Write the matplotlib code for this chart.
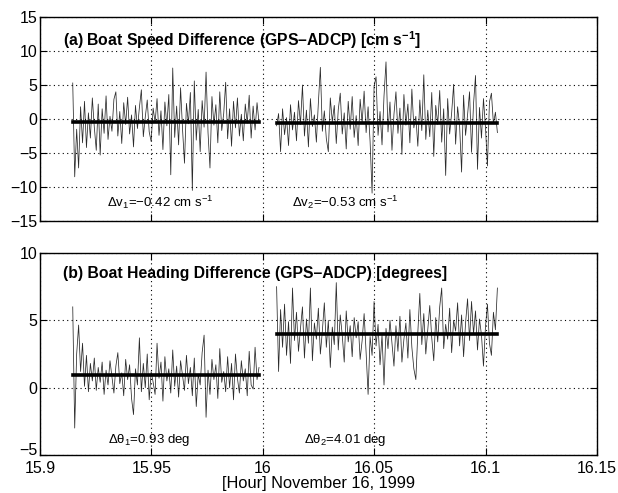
import numpy as np
import matplotlib
matplotlib.use("Agg")
import matplotlib.pyplot as plt
import matplotlib.transforms as mtransforms

plt.rcParams['font.family'] = ['Liberation Sans', 'DejaVu Sans']
plt.rcParams['mathtext.fontset'] = 'custom'
plt.rcParams['mathtext.rm'] = 'Liberation Sans'
plt.rcParams['mathtext.it'] = 'Liberation Sans:italic'
plt.rcParams['mathtext.bf'] = 'Liberation Sans:bold'

# ---- data ----
seg1_start, seg1_end = 15.9147, 15.9983
seg2_start, seg2_end = 16.0062, 16.1053

speed1 = [5.3, -8.5, -1.5, -7.2, 1.8, -3.5, 2.6, -4.2, 0.9, -2.8,
          3.1, -1.2, -4.6, 2.2, -5.3, 1.5, -2.1, 3.4, -3.0, 0.4,
          -1.8, 2.9, 4.0, -2.5, 1.1, -3.6, 2.4, -0.8, 3.2, -2.2,
          0.6, -4.1, 2.0, -1.4, 1.7, 4.3, -2.6, 0.3, 2.8, -1.9,
          -3.3, 1.6, -0.5, 3.0, -2.4, 1.2, -4.5, 2.5, -1.0, 3.6,
          -8.2, 7.5, -2.7, 1.9, -3.8, 4.6, -1.5, -6.5, 2.3, -0.7,
          3.9, -10.5, 5.6, -3.1, 1.4, -4.8, 2.7, -1.2, 6.9, -2.0,
          -7.2, 3.3, -0.9, 2.1, -3.5, 4.0, -1.7, 0.8, 5.4, -2.9,
          1.5, -4.0, 2.6, -1.3, 3.1, -2.5, 0.7, -3.2, 2.2, -0.6,
          3.5, -2.8, 1.9, -1.6, 2.4, -0.5]
speed2 = [-1.0, 0.8, -4.8, 1.5, -2.3, 0.2, -3.9, 2.1, -1.6, 1.0,
          -3.2, 2.7, -0.8, 5.0, -2.5, 1.3, -4.1, 3.0, -1.1, 0.6,
          -3.4, 2.4, 7.6, -1.8, 1.2, -2.9, -4.8, 3.1, -0.4, 2.0,
          -3.6, 1.4, 3.8, -2.2, 0.9, -4.4, 2.6, -1.5, 3.3, -2.7,
          0.5, -3.9, 2.9, -0.6, 4.1, -2.0, 1.8, -3.3, -10.9, 4.8,
          6.2, -2.4, 1.1, -3.8, 3.4, 8.4, -1.9, 2.5, -4.6, 0.7,
          4.0, -2.1, 1.6, -5.2, 3.6, -0.9, 2.2, -3.5, 4.4, -1.3,
          0.4, -4.0, 2.8, -1.7, 6.5, -3.0, 1.3, -2.6, 3.9, -5.5,
          2.0, -0.8, 4.2, -3.4, 1.5, -8.3, 3.0, -2.2, 0.9, 5.1,
          -3.7, 1.8, -1.0, -7.8, 3.5, -2.4, 0.6, 4.0, -4.9, 2.2,
          6.4, -7.4, 1.7, -2.8, 3.0, -1.2, -6.9, 2.5, 3.8, -0.7, 1.0, -2.0]
heading1 = [6.0, -3.0, 2.5, 4.65, 1.2, 3.3, 0.1, 2.4, -0.3, 1.8,
            0.5, 2.2, -0.2, 1.5, 0.4, 1.9, -0.5, 1.3, 0.2, 2.0,
            0.8, -0.4, 1.6, 2.6, 0.3, 1.1, -0.6, 2.1, 0.6, 1.7,
            -0.8, -2.0, 1.4, 0.2, 3.7, -0.3, 1.8, 0.0, 2.5, -0.9,
            1.2, 0.4, -0.5, 3.3, 0.7, 1.9, -1.0, 2.3, 0.5, 1.4,
            -0.4, 2.8, 0.1, 1.6, -0.7, 2.0, 0.9, -0.2, 2.4, 0.3,
            1.5, -0.6, 2.2, -1.4, 1.0, 0.2, 2.6, 3.9, -2.2, 1.3,
            -0.5, 2.1, 0.6, 1.7, -0.8, 2.9, 0.4, 1.2, -0.3, 2.3,
            0.0, 1.8, -0.9, 2.5, 0.7, -0.4, 2.0, 0.5, 1.4, -0.6,
            2.7, 0.2, -0.1, 3.0, 0.6, 1.5]
heading2 = [7.5, 1.2, 5.8, 3.0, 6.2, 2.4, 4.9, 1.8, 7.4, 3.5,
            5.6, 2.7, 4.4, 6.0, 2.2, 5.1, 3.3, 7.4, 2.0, 4.8,
            3.6, 5.9, 2.5, 4.2, 6.3, 3.0, 5.0, 1.5, 4.5, 3.2,
            7.8, 2.8, 5.4, 3.9, 1.9, 5.7, 3.4, 4.6, 2.3, 5.2,
            3.7, 4.9, 2.1, 3.5, 5.5, 2.6, -0.5, 3.8, 2.4, 6.4,
            3.1, 4.7, 1.7, 3.9, 0.2, 4.4, 2.9, 5.0, 3.3, 1.6,
            4.6, 2.7, 5.3, 1.9, 3.6, 4.8, 2.2, 5.8, 3.0, 1.4,
            0.6, 4.1, 7.0, 3.2, 5.5, 2.5, 4.3, 6.1, 3.7, 2.0,
            5.2, 3.4, 6.0, 7.4, 2.9, 4.7, 3.6, 5.9, 2.6, 5.0,
            4.2, 6.3, 3.1, 5.4, 2.3, 4.8, 6.6, 3.5, 6.4, 4.0,
            5.7, 2.8, 5.1, 3.9, 1.6, 4.5, 6.2, 3.3, 2.4, 5.6, 4.3, 7.4]

mean_speed = [-0.42, -0.53]
mean_heading = [0.93, 4.01]

xticks = [15.9, 15.95, 16.0, 16.05, 16.1, 16.15]
xticklabels = ['15.9', '15.95', '16', '16.05', '16.1', '16.15']
yticks_a = [-15, -10, -5, 0, 5, 10, 15]
yticks_b = [-5, 0, 5, 10]

t1 = np.linspace(seg1_start, seg1_end, len(speed1))
t2 = np.linspace(seg2_start, seg2_end, len(speed2))
t1b = np.linspace(seg1_start, seg1_end, len(heading1))
t2b = np.linspace(seg2_start, seg2_end, len(heading2))

fig = plt.figure(figsize=(6.18, 4.93), dpi=100)
axa = fig.add_axes([0.0647, 0.5517, 0.9013, 0.4138])
axb = fig.add_axes([0.0647, 0.0771, 0.9013, 0.4097])

def style(ax, yt):
    ax.set_xlim(15.9, 16.15)
    ax.set_xticks(xticks)
    ax.set_yticks(yt)
    ax.set_ylim(yt[0], yt[-1])
    ax.grid(True, linestyle=(0, (1, 3)), color='black', linewidth=0.8)
    ax.tick_params(direction='in', top=True, right=True, labelsize=11.5, length=5)
    ax.tick_params(axis='y', pad=2)
    ax.tick_params(axis='x', pad=4)
    for s in ax.spines.values():
        s.set_linewidth(1.0)
    ax.set_axisbelow(False)

lc = '#2a2a2a'
axa.plot(t1, speed1, color=lc, lw=0.55)
axa.plot(t2, speed2, color=lc, lw=0.55)
axa.plot([seg1_start, seg1_end], [mean_speed[0]] * 2, color='black', lw=2.6)
axa.plot([seg2_start, seg2_end], [mean_speed[1]] * 2, color='black', lw=2.6)
style(axa, yticks_a)
axa.set_xticklabels([])
axa.set_yticklabels([str(v).replace('-', '\u2212') for v in yticks_a])
axa.text(0.041, 0.885, '(a) Boat Speed Difference (GPS\u2013ADCP) [cm s$^{\\mathbf{-1}}$]',
         transform=axa.transAxes, fontsize=11.3, fontweight='bold', va='center', ha='left')
axa.text(15.954, -12.3, '\u0394v$_1$=\u22120.42 cm s$^{-1}$', ha='center', va='center', fontsize=9.5)
axa.text(16.037, -12.3, '\u0394v$_2$=\u22120.53 cm s$^{-1}$', ha='center', va='center', fontsize=9.5)

axb.plot(t1b, heading1, color=lc, lw=0.55)
axb.plot(t2b, heading2, color=lc, lw=0.55)
axb.plot([seg1_start, seg1_end], [mean_heading[0]] * 2, color='black', lw=2.6)
axb.plot([seg2_start, seg2_end], [mean_heading[1]] * 2, color='black', lw=2.6)
style(axb, yticks_b)
axb.set_xticklabels(xticklabels)
axb.set_yticklabels([str(v).replace('-', '\u2212') for v in yticks_b])
# lift the lowest y label slightly so it clears the first x label
lowest = axb.get_yticklabels()[0]
lowest.set_transform(lowest.get_transform() +
                     mtransforms.ScaledTranslation(0, 4 / 72, fig.dpi_scale_trans))
axb.text(0.041, 0.90, '(b) Boat Heading Difference (GPS\u2013ADCP) [degrees]',
         transform=axb.transAxes, fontsize=11.3, fontweight='bold', va='center', ha='left')
axb.text(15.949, -3.9, '\u0394\u03b8$_1$=0.93 deg', ha='center', va='center', fontsize=9.5)
axb.text(16.037, -3.9, '\u0394\u03b8$_2$=4.01 deg', ha='center', va='center', fontsize=9.5)
axb.set_xlabel('[Hour] November 16, 1999', fontsize=11.8, labelpad=0)

fig.savefig('out.png', dpi=100)
